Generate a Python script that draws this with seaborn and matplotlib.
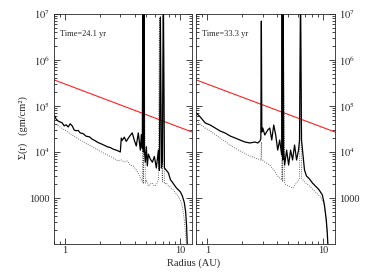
import matplotlib
matplotlib.use("Agg")
import matplotlib.pyplot as plt
import seaborn as sns
import numpy as np
from matplotlib.ticker import NullFormatter, LogLocator

# ---------------- data ----------------
times = ["Time=24.1 yr", "Time=33.3 yr"]

red_r = [0.80, 12.7]
red_sigma = [3.7e5, 2.7e4]

left_solid_r = [0.802, 0.835, 0.869, 0.905, 0.942, 0.980, 1.020, 1.062, 1.105, 1.151,
                1.198, 1.246, 1.297, 1.350, 1.434, 1.522, 1.617, 1.717, 1.823, 1.936,
                2.056, 2.184, 2.319, 2.462, 2.615, 2.777, 2.890, 3.008, 3.069, 3.131,
                3.26, 3.39, 3.53, 3.67, 3.82, 3.98, 4.14, 4.31, 4.49, 4.58,
                4.67, 4.72, 4.77, 4.82, 4.86, 4.96, 5.06, 5.16, 5.27, 5.48,
                5.71, 5.94, 6.18, 6.44, 6.57, 6.70, 6.84, 6.97, 7.11, 7.26,
                7.55, 7.87, 8.19, 8.52, 8.87, 9.23, 9.61, 10.0, 10.4, 10.8,
                11.1, 11.3, 11.5]
left_solid_s = [6.4e4, 5.2e4, 4.7e4, 4.5e4, 4.3e4, 3.7e4, 3.9e4, 3.5e4, 4.1e4, 3.7e4,
                3.0e4, 2.9e4, 2.95e4, 2.6e4, 2.5e4, 2.2e4, 2.15e4, 1.9e4, 1.75e4, 1.6e4,
                1.5e4, 1.4e4, 1.3e4, 1.25e4, 1.15e4, 1.1e4, 1.05e4, 1.0e4, 2.0e4, 1.8e4,
                2.1e4, 1.7e4, 2.0e4, 2.3e4, 2.6e4, 1.8e4, 1.35e4, 2.6e4, 1.1e4, 2.4e4,
                1.2e4, 3e7, 1.0e4, 3e7, 1.2e4, 6000, 1.3e4, 5000, 9000, 7000,
                6000, 8000, 4500, 1.1e4, 4000, 8.6e6, 4500, 6000, 3e7, 4500,
                4000, 3500, 2500, 2200, 1900, 1650, 1500, 1350, 1100, 800,
                500, 250, 80]

left_dot_r = [0.802, 0.905, 1.020, 1.151, 1.350, 1.617, 1.936, 2.319, 2.615, 2.890,
              3.069, 3.26, 3.46, 3.67, 3.90, 4.14, 4.31, 4.49, 4.67, 4.72,
              4.77, 4.82, 4.96, 5.06, 5.27, 5.48, 5.71, 5.94, 6.18, 6.44,
              6.57, 6.97, 7.11, 7.26, 7.55, 7.87, 8.19, 8.69, 9.23, 9.61,
              10.0, 10.4, 10.8, 11.0, 11.3]
left_dot_s = [4.27e4, 3.49e4, 2.86e4, 2.34e4, 1.82e4, 1.42e4, 1.10e4, 8600, 7410, 6370,
              6700, 6060, 6370, 5210, 4960, 4060, 3450, 2720, 2230, 3e7,
              2020, 3e7, 2120, 2460, 1820, 2020, 2120, 1820, 1920, 2460,
              8e6, 2230, 3e7, 2020, 2120, 1820, 1730, 1490, 1230, 1050,
              905, 637, 332, 200, 95]

right_solid_r = [0.805, 0.871, 0.961, 1.061, 1.171, 1.291, 1.425, 1.573, 1.735, 1.915,
                 2.113, 2.331, 2.572, 2.729, 2.838, 2.894, 2.924, 2.952, 3.010, 3.131,
                 3.322, 3.455, 3.594, 3.738, 3.888, 4.045, 4.207, 4.375, 4.42, 4.462,
                 4.51, 4.551, 4.642, 4.828, 5.022, 5.223, 5.433, 5.651, 5.878, 6.114,
                 6.236, 6.36, 6.486, 6.614, 6.880, 7.156, 7.591, 8.054, 8.544, 9.064,
                 9.428, 9.806, 10.2, 10.6, 10.8, 11.0]
right_solid_s = [7.05e4, 5.77e4, 4.27e4, 3.86e4, 3.32e4, 2.86e4, 2.59e4, 2.23e4, 2.02e4, 1.82e4,
                 1.65e4, 1.57e4, 1.65e4, 1.57e4, 1.73e4, 1.92e4, 7e6, 2.72e4, 3.32e4, 2.34e4,
                 3.01e4, 3.32e4, 1.82e4, 3.86e4, 2.34e4, 1.10e4, 1.82e4, 8600, 3e7, 6700,
                 3e7, 1.1e4, 5210, 1.1e4, 5210, 1.1e4, 6700, 1.42e4, 6700, 1.1e4,
                 1.82e4, 3e7, 1.82e4, 1.1e4, 4060, 3010, 2600, 2120, 1820, 1570,
                 1360, 1160, 730, 332, 180, 74]

right_dot_r = [0.805, 0.961, 1.061, 1.291, 1.573, 1.915, 2.331, 2.729, 2.894, 2.924,
               2.952, 3.131, 3.455, 3.738, 4.045, 4.375, 4.42, 4.462, 4.51, 4.642,
               5.022, 5.433, 5.878, 6.236, 6.36, 6.486, 6.880, 7.591, 8.544, 9.428,
               10.0, 10.4, 10.8, 11.0]
right_dot_s = [4.72e4, 3.32e4, 2.86e4, 2.02e4, 1.42e4, 1.05e4, 8180, 7050, 6700, 1.65e4,
               6700, 6060, 5210, 4060, 3010, 2460, 3e7, 2230, 3e7, 2020,
               1820, 1650, 2120, 2720, 3e7, 2720, 2230, 1820, 1360, 1050,
               830, 500, 180, 74]

ytick_vals = [1e3, 1e4, 1e5, 1e6, 1e7]
ytick_labels = ["1000", "$10^4$", "$10^5$", "$10^6$", "$10^7$"]
xtick_vals = [1, 10]
xtick_labels = ["1", "10"]

# ---------------- style ----------------
sns.set_style("ticks")
plt.rcParams["font.family"] = ["Liberation Serif", "DejaVu Serif"]
plt.rcParams["mathtext.fontset"] = "stix"

fig = plt.figure(figsize=(3.68, 2.75), dpi=100)
W, H = 368, 275
ax_l = fig.add_axes([54 / W, (H - 244) / H, 138 / W, 230 / H])
ax_r = fig.add_axes([196 / W, (H - 244) / H, 139 / W, 230 / H])

panels = [
    (ax_l, left_solid_r, left_solid_s, left_dot_r, left_dot_s, times[0], "left"),
    (ax_r, right_solid_r, right_solid_s, right_dot_r, right_dot_s, times[1], "right"),
]

for ax, sr, ss, dr, ds, label, side in panels:
    sns.lineplot(x=red_r, y=red_sigma, ax=ax, color="#ff2020", lw=0.8,
                 sort=False, estimator=None)
    sns.lineplot(x=dr, y=ds, ax=ax, color="#444444", lw=0.6, linestyle=":",
                 sort=False, estimator=None)
    sns.lineplot(x=sr, y=ss, ax=ax, color="black", lw=0.9,
                 sort=False, estimator=None)
    ax.set_xscale("log")
    ax.set_yscale("log")
    ax.set_xlim(0.80, 12.6)
    ax.set_ylim(100, 1e7)
    ax.set_xlabel("")
    ax.set_ylabel("")
    ax.set_xticks(xtick_vals)
    ax.set_xticklabels(xtick_labels)
    ax.xaxis.set_minor_locator(LogLocator(base=10, subs=np.arange(2, 10)))
    ax.xaxis.set_minor_formatter(NullFormatter())
    ax.set_yticks(ytick_vals)
    ax.set_yticklabels(ytick_labels)
    ax.yaxis.set_minor_locator(LogLocator(base=10, subs=np.arange(2, 10)))
    ax.yaxis.set_minor_formatter(NullFormatter())
    ax.tick_params(which="both", direction="in", top=True, right=True,
                   left=True, bottom=True, width=0.6, labelsize=7.5, pad=3)
    ax.tick_params(axis="x", pad=1.5)
    ax.tick_params(which="major", length=4)
    ax.tick_params(which="minor", length=2)
    if side == "left":
        ax.tick_params(labelleft=True, labelright=False)
    else:
        ax.tick_params(labelleft=False, labelright=True)
    for sp in ax.spines.values():
        sp.set_linewidth(0.6)
    ax.text(0.045, 0.915, label, transform=ax.transAxes, fontsize=6,
            ha="left", va="center")

fig.text(194 / W, 1 - 263 / H, "Radius (AU)", ha="center", va="center", fontsize=7.5)
fig.text(23 / W, 1 - 128 / H, "Σ(r)   (gm/cm²)", ha="center", va="center",
         rotation=90, fontsize=7.5)

fig.savefig("out.png", dpi=100)
